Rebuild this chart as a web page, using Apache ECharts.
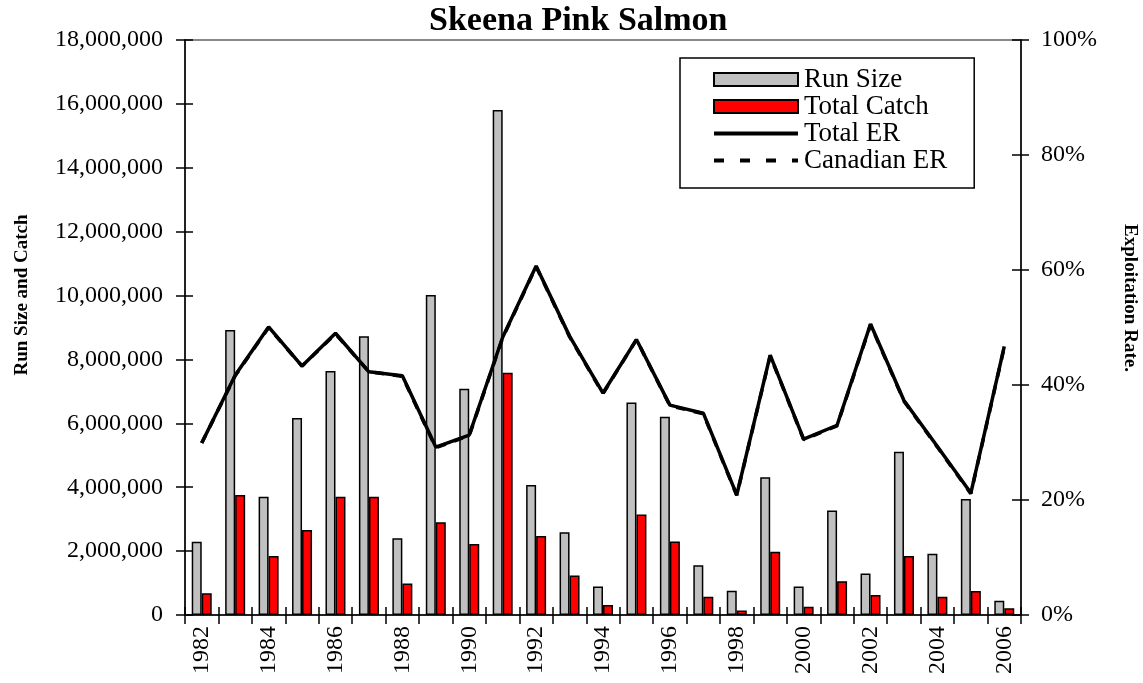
<!DOCTYPE html>
<html>
<head>
<meta charset="utf-8">
<script src="https://cdn.jsdelivr.net/npm/echarts@6/dist/echarts.min.js"></script>
<style>
  html, body { margin: 0; padding: 0; background: #fff; }
  #chart { width: 1143px; height: 683px; }
</style>
</head>
<body>
<div id="chart"></div>
<script>
// Skeena pink salmon: run size, catch and exploitation rates, 1982-2006
const years = ['1982','1983','1984','1985','1986','1987','1988','1989','1990','1991','1992','1993','1994',
               '1995','1996','1997','1998','1999','2000','2001','2002','2003','2004','2005','2006'];

const runSize = [2290000, 8920000, 3700000, 6170000, 7640000, 8730000, 2400000, 10020000, 7080000, 15810000,
                 4070000, 2590000, 890000, 6650000, 6210000, 1560000, 760000, 4310000, 890000, 3270000,
                 1300000, 5110000, 1920000, 3630000, 450000];

const totalCatch = [680000, 3760000, 1850000, 2660000, 3700000, 3700000, 990000, 2900000, 2220000, 7580000,
                    2470000, 1240000, 310000, 3150000, 2300000, 570000, 140000, 1980000, 260000, 1060000,
                    630000, 1850000, 570000, 750000, 210000];

const totalER = [29.9, 41.7, 50.1, 43.3, 49.0, 42.3, 41.6, 29.2, 31.3, 48.3, 60.7, 48.5, 38.6,
                 47.9, 36.5, 35.1, 20.9, 45.2, 30.6, 33.0, 50.6, 37.3, 29.3, 21.2, 46.7];

const canadianER = [29.9, 41.6, 50.0, 43.3, 48.9, 42.3, 41.5, 29.1, 31.2, 48.2, 60.6, 48.4, 38.5,
                    47.9, 36.4, 35.0, 20.8, 45.1, 30.5, 32.9, 50.5, 37.2, 29.2, 21.1, 46.6];

const leftTicks = { min: 0, max: 18000000, interval: 2000000 };
const rightTicks = { min: 0, max: 100, interval: 20 };

const serif = '"Liberation Serif", "Times New Roman", serif';
const axisLine = { show: true, lineStyle: { color: '#000', width: 1.5 } };
const tickStyle = { color: '#000', width: 1.5 };

// legend glyphs for the two rate lines
const solidIcon = 'path://M0,0H84V4H0Z';
const dashIcon = 'path://M0,0H10V4H0Z M26,0H36V4H26Z M52,0H62V4H52Z M78,0H84V4H78Z';

// each axis is paired with a twin on the same side so that ticks cross the axis line
const chart = echarts.init(document.getElementById('chart'), null, { renderer: 'canvas' });

chart.setOption({
  animation: false,
  backgroundColor: '#fff',
  title: {
    text: 'Skeena Pink Salmon',
    left: 424,
    top: -1,
    textStyle: { fontFamily: serif, fontWeight: 'bold', fontSize: 34, color: '#000' }
  },
  grid: {
    left: 185, right: 122, top: 40, bottom: 68, containLabel: false,
    show: true, borderColor: '#888', borderWidth: 2, backgroundColor: 'transparent'
  },
  legend: {
    orient: 'vertical',
    left: 680,
    top: 58,
    padding: [8, 27, 14, 33],
    itemGap: 0,
    itemWidth: 84,
    itemHeight: 13,
    borderColor: '#000',
    borderWidth: 1.5,
    backgroundColor: '#fff',
    textStyle: { fontFamily: serif, fontSize: 27, lineHeight: 26, color: '#000', padding: [0, 0, 0, 1] },
    data: [
      { name: 'Run Size', icon: 'rect' },
      { name: 'Total Catch', icon: 'rect' },
      { name: 'Total ER', icon: solidIcon, itemStyle: { color: '#000', borderWidth: 0 } },
      { name: 'Canadian ER', icon: dashIcon, itemStyle: { color: '#000', borderWidth: 0 } }
    ]
  },
  xAxis: [
    {
      type: 'category',
      data: years,
      position: 'bottom',
      axisLine: axisLine,
      axisTick: { show: true, interval: 0, length: 9, lineStyle: tickStyle },
      axisLabel: { interval: 1, rotate: 90, margin: 11, fontFamily: serif, fontSize: 24, color: '#000' },
      splitLine: { show: false }
    },
    {
      type: 'category',
      data: years,
      position: 'bottom',
      axisLine: { show: false },
      axisTick: { show: true, inside: true, interval: 0, length: 8, lineStyle: tickStyle },
      axisLabel: { show: false },
      splitLine: { show: false }
    }
  ],
  yAxis: [
    {
      type: 'value',
      position: 'left',
      min: leftTicks.min, max: leftTicks.max, interval: leftTicks.interval,
      axisLine: axisLine,
      axisTick: { show: true, length: 9, lineStyle: tickStyle },
      axisLabel: {
        margin: 22, fontFamily: serif, fontSize: 24, color: '#000',
        formatter: v => v.toLocaleString('en-US')
      },
      splitLine: { show: false }
    },
    {
      type: 'value',
      position: 'left',
      min: leftTicks.min, max: leftTicks.max, interval: leftTicks.interval,
      axisLine: { show: false },
      axisTick: { show: true, inside: true, length: 8, lineStyle: tickStyle },
      axisLabel: { show: false },
      splitLine: { show: false }
    },
    {
      type: 'value',
      position: 'right',
      min: rightTicks.min, max: rightTicks.max, interval: rightTicks.interval,
      axisLine: axisLine,
      axisTick: { show: true, length: 8, lineStyle: tickStyle },
      axisLabel: { margin: 20, fontFamily: serif, fontSize: 24, color: '#000', formatter: '{value}%' },
      splitLine: { show: false }
    },
    {
      type: 'value',
      position: 'right',
      min: rightTicks.min, max: rightTicks.max, interval: rightTicks.interval,
      axisLine: { show: false },
      axisTick: { show: true, inside: true, length: 9, lineStyle: tickStyle },
      axisLabel: { show: false },
      splitLine: { show: false }
    }
  ],
  graphic: [
    {
      type: 'text',
      x: 22, y: 295,
      rotation: Math.PI / 2,
      style: {
        text: 'Run Size and Catch',
        fontFamily: serif, fontWeight: 'bold', fontSize: 19, fill: '#000',
        textAlign: 'center', textVerticalAlign: 'middle'
      }
    },
    {
      type: 'text',
      x: 1130, y: 298,
      rotation: -Math.PI / 2,
      style: {
        text: 'Exploitation Rate.',
        fontFamily: serif, fontWeight: 'bold', fontSize: 19, fill: '#000',
        textAlign: 'center', textVerticalAlign: 'middle'
      }
    }
  ],
  series: [
    {
      name: 'Run Size',
      type: 'bar',
      xAxisIndex: 0, yAxisIndex: 0,
      data: runSize,
      barWidth: 10,
      barGap: '0%',
      itemStyle: { color: '#c0c0c0', borderColor: '#000', borderWidth: 1.5 }
    },
    {
      name: 'Total Catch',
      type: 'bar',
      xAxisIndex: 0, yAxisIndex: 1,
      data: totalCatch,
      barWidth: 10,
      barGap: '0%',
      itemStyle: { color: '#ff0000', borderColor: '#000', borderWidth: 1.5 }
    },
    {
      name: 'Canadian ER',
      type: 'line',
      xAxisIndex: 1, yAxisIndex: 3,
      data: canadianER,
      symbol: 'none',
      z: 3,
      lineStyle: { color: '#000', width: 3.5, type: [9, 9] },
      itemStyle: { color: '#000' }
    },
    {
      name: 'Total ER',
      type: 'line',
      xAxisIndex: 0, yAxisIndex: 2,
      data: totalER,
      symbol: 'none',
      z: 4,
      lineStyle: { color: '#000', width: 3.5 },
      itemStyle: { color: '#000' }
    }
  ]
});
</script>
</body>
</html>
